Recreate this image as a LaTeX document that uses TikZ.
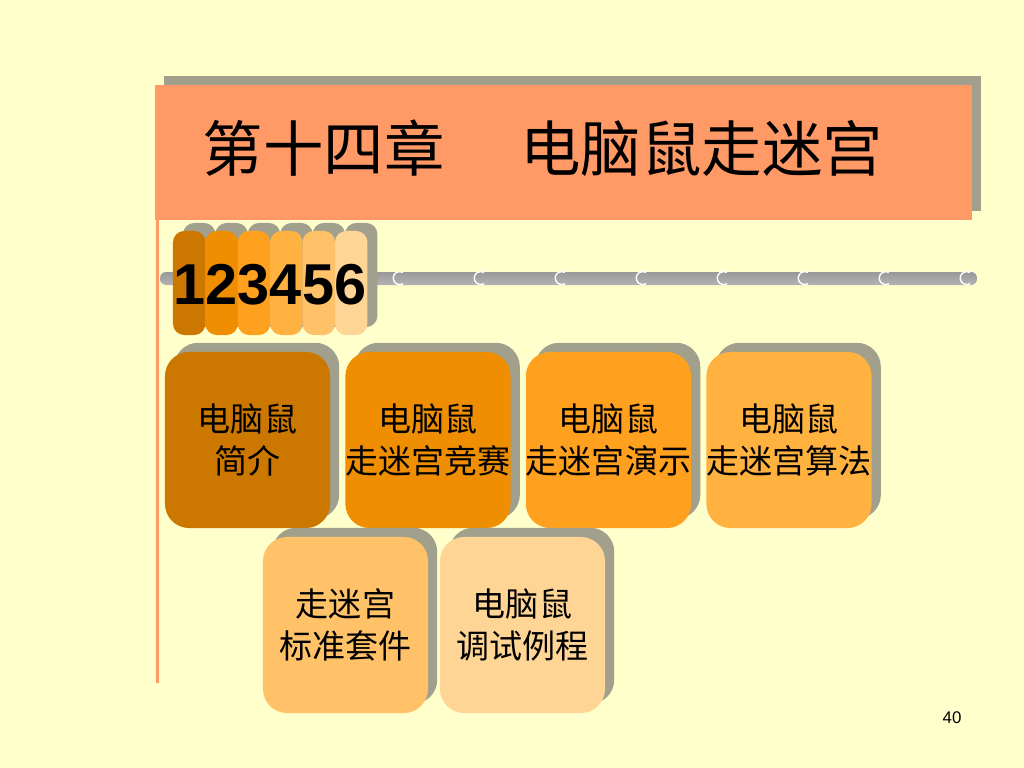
\documentclass[tikz,border=0pt]{standalone}
\usepackage{fontspec}
\newfontfamily\cjk{Noto Sans CJK SC}
\newfontfamily\arialfont{Liberation Sans}
\usepackage{tikz}
\usetikzlibrary{shadows}
\definecolor{pagebg}{RGB}{255,255,204}
\definecolor{titlesalmon}{RGB}{255,153,102}
\definecolor{shadowgray}{RGB}{160,160,140}
\definecolor{mouseA}{RGB}{204,119,0}
\definecolor{mouseB}{RGB}{238,142,0}
\definecolor{mouseC}{RGB}{255,160,30}
\definecolor{mouseD}{RGB}{255,178,64}
\definecolor{mouseE}{RGB}{255,194,104}
\definecolor{mouseF}{RGB}{255,213,150}

\begin{document}
\begin{tikzpicture}[x=0.025cm, y=-0.025cm,
    shadowed/.style={drop shadow={shadow xshift=0.23cm, shadow yshift=0.23cm, fill=shadowgray, opacity=1}},
    titlebar/.style={rectangle, fill=titlesalmon, minimum width=20.425cm, minimum height=3.375cm, inner sep=0pt, shadowed},
    tab/.style={rectangle, rounded corners=0.28cm, minimum width=0.81cm, minimum height=2.6cm, inner sep=0pt,
        drop shadow={shadow xshift=0.25cm, shadow yshift=0.2cm, fill=shadowgray, opacity=1}},
    topic/.style={rectangle, rounded corners=0.6cm, minimum width=4.125cm, minimum height=4.4cm, inner sep=0pt,
        align=center, font=\cjk\fontsize{23.5}{30}\selectfont, shadowed}
]
    \fill[pagebg] (0,0) rectangle (1024,768);
    \useasboundingbox (0,0) rectangle (1024,768);

    \node[titlebar] (bar) at (563.5,152.5) {};
    \node[font=\cjk\fontsize{43}{48}\selectfont] (title) at (543,148) {第十四章\hspace{1.25em}电脑鼠走迷宫};
    \draw[titlesalmon, line width=0.075cm] (157,219) -- (157,683);

    \shade[top color=gray!80, middle color=white, bottom color=gray!60, rounded corners=0.15cm] (160,272) rectangle (977,285);
    \foreach \k in {0,...,7}
        \draw[white, line width=0.035cm] ({403+81*\k},283.7) arc[start angle=60, end angle=300, radius=6.5];

    \foreach \i/\c in {1/mouseA,2/mouseB,3/mouseC,4/mouseD,5/mouseE,6/mouseF}
        \node[tab, fill=\c] (tab\i) at ({173+32.4*(\i-0.5)},283) {};
    \node[font=\arialfont\bfseries\fontsize{41}{48}\selectfont, inner sep=0pt, anchor=base] (digits) at (270,304) {123456};

    \node[topic, fill=mouseA] (intro) at (247.5,440) {电脑鼠\\简介};
    \node[topic, fill=mouseB] (contest) at (428,440) {电脑鼠\\走迷宫竞赛};
    \node[topic, fill=mouseC] (demo) at (608.5,440) {电脑鼠\\走迷宫演示};
    \node[topic, fill=mouseD] (algo) at (789,440) {电脑鼠\\走迷宫算法};
    \node[topic, fill=mouseE] (kit) at (345.5,625) {走迷宫\\标准套件};
    \node[topic, fill=mouseF] (debug) at (522.5,625) {电脑鼠\\调试例程};

    \node[font=\arialfont\fontsize{12}{14}\selectfont] (pagenum) at (952,718) {40};
\end{tikzpicture}
\end{document}
